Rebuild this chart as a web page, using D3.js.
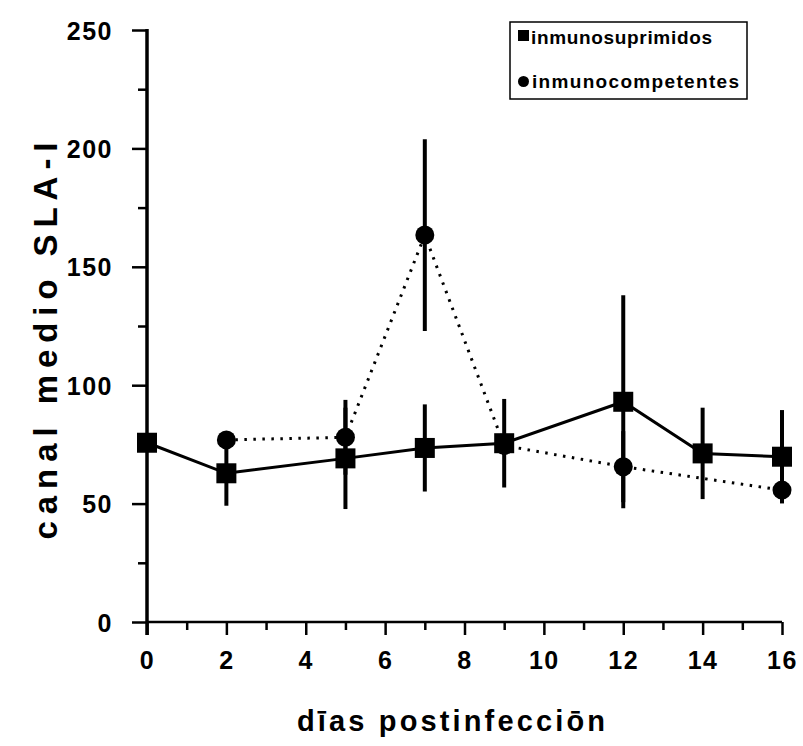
<!DOCTYPE html>
<html>
<head>
<meta charset="utf-8">
<script src="https://cdn.jsdelivr.net/npm/d3@7"></script>
<style>
  html, body { margin: 0; padding: 0; background: #fff; }
  svg { display: block; font-family: "Liberation Sans", Arial, Helvetica, sans-serif; }
  .axis text { font-size: 25px; font-weight: bold; fill: #000; letter-spacing: 1.5px; }
</style>
</head>
<body>
<svg id="chart" width="803" height="746"></svg>
<script>
// --- data ---
const supDays = [0, 2, 5, 7, 9, 12, 14, 16];
const supMean = [75.7, 62.8, 69.1, 73.5, 75.5, 93.0, 71.2, 69.8];
const supErr  = [2, 13.7, 21.4, 18.4, 18.7, 45, 19.3, 19.7];

const compDays = [2, 5, 7, 9, 12, 16];
const compMean = [76.9, 78.0, 163.4, 74.5, 65.6, 55.7];
const compErr  = [3, 15.8, 40.5, 4, 15, 5.5];

const xMajor = [0, 2, 4, 6, 8, 10, 12, 14, 16];
const xMinor = [1, 3, 5, 7, 9, 11, 13, 15];
const yMajor = [0, 50, 100, 150, 200, 250];
const yMinor = [25, 75, 125, 175, 225];

const legendLabels = ["inmunosuprimidos", "inmunocompetentes"];

const svg = d3.select("#chart");
const x = d3.scaleLinear().domain([0, 16]).range([147, 782]);
const y = d3.scaleLinear().domain([0, 250]).range([622, 30]);

const sup = supDays.map((d, i) => ({ d, m: supMean[i], e: supErr[i] }));
const comp = compDays.map((d, i) => ({ d, m: compMean[i], e: compErr[i] }));

// axes
const gy = svg.append("g").attr("class", "axis").attr("transform", `translate(${x(0)},0)`);
gy.call(d3.axisLeft(y).tickValues(yMajor).tickSize(15).tickSizeOuter(0).tickPadding(19));
gy.select(".domain").remove();
gy.selectAll(".tick line").attr("stroke-width", 2.5);
gy.selectAll(".tick text").attr("dy", "0.36em");

const gyMinor = svg.append("g").attr("transform", `translate(${x(0)},0)`);
gyMinor.call(d3.axisLeft(y).tickValues(yMinor).tickSize(9).tickFormat(""));
gyMinor.select(".domain").remove();
gyMinor.selectAll(".tick line").attr("stroke-width", 2.5);

const gx = svg.append("g").attr("class", "axis").attr("transform", `translate(0,${y(0)})`);
gx.call(d3.axisBottom(x).tickValues(xMajor).tickSize(13).tickSizeOuter(0).tickPadding(16));
gx.select(".domain").remove();
gx.selectAll(".tick line").attr("stroke-width", 2.5);

const gxMinor = svg.append("g").attr("transform", `translate(0,${y(0)})`);
gxMinor.call(d3.axisBottom(x).tickValues(xMinor).tickSize(8).tickFormat(""));
gxMinor.select(".domain").remove();
gxMinor.selectAll(".tick line").attr("stroke-width", 2.5);

// axis lines
svg.append("line")
  .attr("x1", x(0)).attr("x2", x(0))
  .attr("y1", y(250) - 1).attr("y2", y(0) + 13)
  .attr("stroke", "#000").attr("stroke-width", 3.5);
svg.append("line")
  .attr("x1", x(0)).attr("x2", x(16))
  .attr("y1", y(0)).attr("y2", y(0))
  .attr("stroke", "#000").attr("stroke-width", 2.5);

// error bars
function errorBars(data) {
  svg.append("g").selectAll("line").data(data).join("line")
    .attr("x1", d => x(d.d)).attr("x2", d => x(d.d))
    .attr("y1", d => y(d.m + d.e)).attr("y2", d => y(d.m - d.e))
    .attr("stroke", "#000").attr("stroke-width", 4);
}
errorBars(comp);
errorBars(sup);

// lines
const line = d3.line().x(d => x(d.d)).y(d => y(d.m));
svg.append("path").datum(comp).attr("d", line)
  .attr("fill", "none").attr("stroke", "#000").attr("stroke-width", 3)
  .attr("stroke-dasharray", "2.5 6.5");
svg.append("path").datum(sup).attr("d", line)
  .attr("fill", "none").attr("stroke", "#000").attr("stroke-width", 3);

// markers
svg.append("g").selectAll("circle").data(comp).join("circle")
  .attr("cx", d => x(d.d)).attr("cy", d => y(d.m)).attr("r", 9.5).attr("fill", "#000");
svg.append("g").selectAll("rect").data(sup).join("rect")
  .attr("x", d => x(d.d) - 10).attr("y", d => y(d.m) - 10)
  .attr("width", 20).attr("height", 20).attr("fill", "#000");

// axis titles
svg.append("text")
  .attr("transform", "translate(57,341) rotate(-90)")
  .attr("text-anchor", "middle")
  .attr("font-size", 33).attr("font-weight", "bold")
  .attr("textLength", 397).attr("lengthAdjust", "spacing")
  .text("canal medio SLA-I");

svg.append("text")
  .attr("x", 451).attr("y", 731)
  .attr("text-anchor", "middle")
  .attr("font-size", 29).attr("font-weight", "bold")
  .attr("textLength", 308).attr("lengthAdjust", "spacing")
  .text("dīas postinfecciōn");

// legend
const lg = svg.append("g");
lg.append("rect").attr("x", 510).attr("y", 22).attr("width", 237).attr("height", 77)
  .attr("fill", "#fff").attr("stroke", "#000").attr("stroke-width", 1.5);
lg.append("rect").attr("x", 518).attr("y", 30).attr("width", 11).attr("height", 11).attr("fill", "#000");
lg.append("circle").attr("cx", 523.5).attr("cy", 81.5).attr("r", 5.5).attr("fill", "#000");
lg.append("text").attr("x", 531).attr("y", 44)
  .attr("font-size", 19).attr("font-weight", "bold")
  .attr("textLength", 181).attr("lengthAdjust", "spacing")
  .text(legendLabels[0]);
lg.append("text").attr("x", 532).attr("y", 88)
  .attr("font-size", 19).attr("font-weight", "bold")
  .attr("textLength", 207).attr("lengthAdjust", "spacing")
  .text(legendLabels[1]);
</script>
</body>
</html>
